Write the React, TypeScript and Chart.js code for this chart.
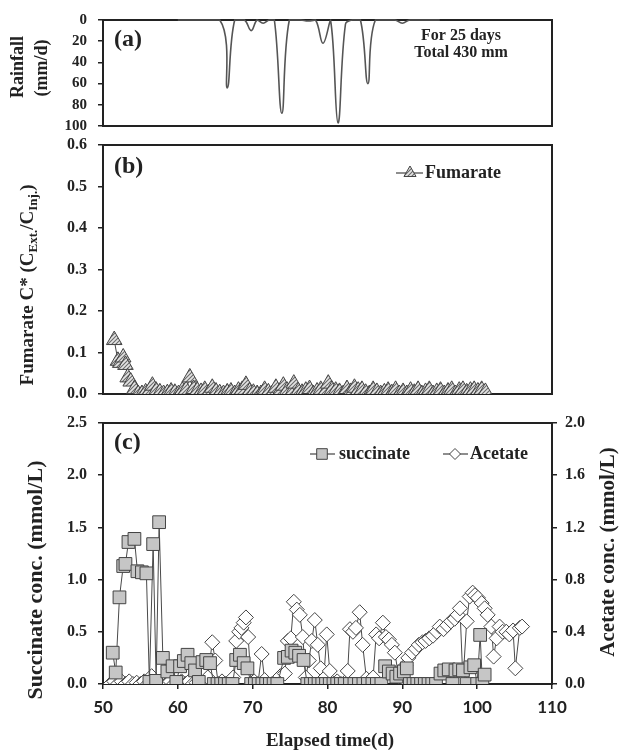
import React, { useEffect, useRef } from 'react';
import { Chart, registerables } from 'chart.js';

Chart.register(...registerables);

const W = 619;
const H = 750;
const LEFT = 103;
const RIGHT = 552;
const SERIF = '"Liberation Serif", "Times New Roman", serif';
const SANS = 'Lato, "Open Sans", sans-serif';
const INK = '#222';

// ---------- (a) rainfall ----------
const rainDays = [60, 65.6, 66.6, 67.6, 68.9, 69.8, 70.6, 71.4, 72.2, 72.9, 73.9, 74.9, 76.4, 77.4, 78.4, 79.4, 80.4, 81.4, 82.4, 83.3, 84.4, 85.4, 86.4, 89.0, 90.0, 91.0, 95];
const rainMm = [0, 0, 64, 0, 0, 10, 0, 3, 0, 0, 88, 0, 0, 1, 0, 22, 0, 97, 4, 0, 0, 60, 0, 0, 3, 0, 0];
const rainTicks = [0, 20, 40, 60, 80, 100];

// ---------- (b) fumarate ----------
const fumDays = [51.5, 52.0, 52.3, 52.7, 53.0, 53.3, 53.7, 54.2, 54.7, 55.2, 55.7, 56.2, 56.6, 57.1, 57.6, 58.1, 58.6, 59.1, 59.6, 60.1, 60.6, 61.1, 61.6, 62.1, 62.6, 63.1, 63.6, 64.1, 64.6, 65.1, 65.6, 66.1, 66.6, 67.1, 67.6, 68.1, 68.6, 69.1, 69.6, 70.1, 70.6, 71.1, 71.6, 72.1, 72.6, 73.1, 73.6, 74.1, 74.6, 75.1, 75.5, 76.1, 76.6, 77.1, 77.6, 78.1, 78.6, 79.1, 79.6, 80.1, 80.6, 81.1, 81.6, 82.1, 82.6, 83.1, 83.6, 84.1, 84.6, 85.1, 85.6, 86.1, 86.6, 87.1, 87.6, 88.1, 88.6, 89.1, 89.6, 90.1, 90.6, 91.1, 91.6, 92.1, 92.6, 93.1, 93.6, 94.1, 94.6, 95.1, 95.6, 96.1, 96.6, 97.1, 97.6, 98.1, 98.6, 99.1, 99.6, 100.1, 100.6, 101.1];
const fumVals = [0.130, 0.080, 0.075, 0.088, 0.070, 0.040, 0.030, 0.012, 0.000, 0.000, 0.004, 0.006, 0.020, 0.008, 0.004, 0.000, 0.002, 0.006, 0.003, 0.000, 0.008, 0.010, 0.040, 0.012, 0.008, 0.005, 0.010, 0.002, 0.015, 0.006, 0.002, 0.000, 0.004, 0.006, 0.000, 0.008, 0.010, 0.022, 0.006, 0.003, 0.000, 0.000, 0.010, 0.004, 0.000, 0.015, 0.005, 0.020, 0.008, 0.000, 0.025, 0.006, 0.003, 0.008, 0.012, 0.000, 0.006, 0.010, 0.002, 0.025, 0.010, 0.008, 0.005, 0.000, 0.012, 0.005, 0.015, 0.008, 0.010, 0.003, 0.000, 0.010, 0.005, 0.000, 0.004, 0.008, 0.002, 0.010, 0.000, 0.005, 0.000, 0.008, 0.003, 0.010, 0.000, 0.005, 0.010, 0.000, 0.005, 0.008, 0.000, 0.006, 0.010, 0.000, 0.008, 0.010, 0.004, 0.008, 0.010, 0.006, 0.010, 0.005];
const fumTicks = [0, 0.1, 0.2, 0.3, 0.4, 0.5, 0.6];

// ---------- (c) succinate & acetate ----------
const succDays = [51.3, 51.7, 52.2, 52.7, 53.0, 53.4, 54.2, 54.6, 55.2, 55.8, 56.2, 56.7, 57.1, 57.5, 58.0, 58.6, 59.3, 59.8, 60.3, 60.8, 61.3, 61.8, 62.3, 62.8, 63.3, 63.8, 64.3, 64.8, 65.3, 65.8, 66.3, 66.8, 67.3, 67.8, 68.3, 68.8, 69.3, 69.8, 70.3, 70.8, 71.3, 71.8, 72.3, 72.8, 73.3, 74.2, 74.7, 75.2, 75.7, 76.2, 76.8, 77.3, 77.8, 78.3, 78.8, 79.3, 79.8, 80.3, 80.8, 81.3, 81.8, 82.3, 83.0, 83.6, 84.2, 84.8, 85.4, 86.0, 86.6, 87.2, 87.7, 88.2, 88.7, 89.2, 89.7, 90.2, 90.6, 91.0, 91.5, 92.0, 92.5, 93.0, 93.5, 94.0, 94.5, 95.1, 95.6, 96.2, 96.7, 97.1, 97.6, 98.1, 98.6, 99.1, 99.6, 100.0, 100.4, 100.7, 101.0];
const succVals = [0.30, 0.11, 0.83, 1.13, 1.15, 1.36, 1.39, 1.08, 1.07, 1.06, 0.02, 1.34, 0.03, 1.55, 0.25, 0.12, 0.17, 0.02, 0.17, 0.22, 0.28, 0.20, 0.13, 0.02, 0.21, 0.23, 0.20, 0.00, 0.00, 0.00, 0.00, 0.00, 0.00, 0.23, 0.28, 0.20, 0.15, 0.00, 0.00, 0.00, 0.00, 0.00, 0.00, 0.00, 0.00, 0.25, 0.26, 0.32, 0.30, 0.27, 0.23, 0.00, 0.00, 0.00, 0.00, 0.00, 0.00, 0.00, 0.00, 0.00, 0.00, 0.00, 0.00, 0.00, 0.00, 0.00, 0.00, 0.00, 0.00, 0.00, 0.17, 0.12, 0.10, 0.07, 0.10, 0.12, 0.15, 0.00, 0.00, 0.00, 0.00, 0.00, 0.00, 0.00, 0.00, 0.10, 0.13, 0.14, 0.00, 0.13, 0.14, 0.13, 0.00, 0.16, 0.18, 0.00, 0.47, 0.00, 0.09];

const aceDays = [51.0, 51.5, 52.0, 52.5, 53.0, 53.5, 54.0, 54.5, 55.0, 55.5, 56.0, 56.5, 57.0, 57.5, 58.0, 58.5, 59.0, 59.5, 60.0, 60.5, 61.0, 61.5, 62.0, 62.5, 63.0, 63.5, 64.0, 64.6, 65.0, 65.4, 65.9, 66.4, 66.9, 67.4, 67.8, 68.2, 68.5, 68.8, 69.1, 69.4, 69.8, 70.2, 70.7, 71.2, 71.6, 72.1, 72.6, 73.1, 73.7, 74.3, 74.7, 75.1, 75.5, 75.9, 76.3, 76.7, 77.1, 77.5, 77.9, 78.3, 78.7, 79.1, 79.5, 79.9, 80.3, 80.8, 81.3, 81.8, 82.3, 82.7, 83.0, 83.4, 83.8, 84.3, 84.7, 85.2, 85.7, 86.1, 86.5, 86.9, 87.4, 87.8, 88.2, 88.6, 89.0, 89.5, 90.0, 90.4, 90.8, 91.3, 91.8, 92.2, 92.7, 93.1, 93.6, 94.1, 94.6, 95.0, 95.5, 96.0, 96.5, 97.0, 97.4, 97.7, 98.1, 98.6, 99.0, 99.4, 99.7, 100.1, 100.6, 101.0, 101.4, 101.9, 102.2, 102.6, 103.0, 103.4, 103.9, 104.3, 104.8, 105.1, 105.7, 106.0];
const aceVals = [0.00, 0.02, 0.00, 0.02, 0.00, 0.02, 0.00, 0.01, 0.00, 0.02, 0.00, 0.06, 0.01, 0.00, 0.02, 0.00, 0.02, 0.00, 0.01, 0.02, 0.00, 0.02, 0.00, 0.01, 0.02, 0.00, 0.05, 0.32, 0.18, 0.00, 0.02, 0.00, 0.01, 0.05, 0.33, 0.40, 0.43, 0.47, 0.51, 0.36, 0.00, 0.02, 0.00, 0.23, 0.03, 0.00, 0.00, 0.02, 0.06, 0.08, 0.33, 0.35, 0.63, 0.57, 0.53, 0.36, 0.05, 0.18, 0.33, 0.49, 0.30, 0.12, 0.04, 0.38, 0.10, 0.00, 0.02, 0.00, 0.01, 0.10, 0.42, 0.40, 0.43, 0.55, 0.30, 0.04, 0.00, 0.05, 0.38, 0.35, 0.47, 0.36, 0.34, 0.30, 0.24, 0.06, 0.05, 0.14, 0.20, 0.24, 0.27, 0.30, 0.32, 0.33, 0.35, 0.37, 0.40, 0.44, 0.42, 0.45, 0.48, 0.50, 0.53, 0.58, 0.02, 0.48, 0.67, 0.70, 0.68, 0.66, 0.62, 0.58, 0.53, 0.44, 0.21, 0.35, 0.44, 0.40, 0.40, 0.38, 0.41, 0.12, 0.43, 0.44];

const succTicks = [0, 0.5, 1.0, 1.5, 2.0, 2.5];
const aceTicks = [0, 0.4, 0.8, 1.2, 1.6, 2.0];
const dayTicks = [50, 60, 70, 80, 90, 100, 110];

// ---------- helpers ----------
type Seg = { t: string; size: number; sub?: boolean };

function drawRot(ctx: CanvasRenderingContext2D, segs: Seg[], cx: number, cy: number) {
  ctx.save();
  ctx.translate(cx, cy);
  ctx.rotate(-Math.PI / 2);
  ctx.textBaseline = 'middle';
  ctx.textAlign = 'left';
  ctx.fillStyle = INK;
  let total = 0;
  const widths = segs.map((s) => {
    ctx.font = `bold ${s.size}px ${SERIF}`;
    const w = ctx.measureText(s.t).width;
    total += w;
    return w;
  });
  let x = -total / 2;
  segs.forEach((s, i) => {
    ctx.font = `bold ${s.size}px ${SERIF}`;
    ctx.fillText(s.t, x, s.sub ? s.size * 0.45 : 0);
    x += widths[i];
  });
  ctx.restore();
}

function text(ctx: CanvasRenderingContext2D, t: string, x: number, y: number, size: number, align: CanvasTextAlign = 'left', family = SERIF) {
  ctx.save();
  ctx.font = `bold ${size}px ${family}`;
  ctx.fillStyle = INK;
  ctx.textAlign = align;
  ctx.textBaseline = 'middle';
  ctx.fillText(t, x, y);
  ctx.restore();
}

function marker(ctx: CanvasRenderingContext2D, style: string, x: number, y: number, r: number, fill: string | CanvasPattern) {
  ctx.save();
  ctx.beginPath();
  if (style === 'triangle') {
    ctx.moveTo(x, y - r);
    ctx.lineTo(x + r * 0.866, y + r * 0.5);
    ctx.lineTo(x - r * 0.866, y + r * 0.5);
    ctx.closePath();
  } else if (style === 'rect') {
    const s = r * 0.707;
    ctx.rect(x - s, y - s, 2 * s, 2 * s);
  } else {
    ctx.moveTo(x - r, y);
    ctx.lineTo(x, y - r);
    ctx.lineTo(x + r, y);
    ctx.lineTo(x, y + r);
    ctx.closePath();
  }
  ctx.fillStyle = fill as any;
  ctx.fill();
  ctx.strokeStyle = '#444';
  ctx.lineWidth = 1;
  ctx.stroke();
  ctx.restore();
}

function legendItem(ctx: CanvasRenderingContext2D, x1: number, x2: number, mx: number, y: number, style: string, r: number, fill: string | CanvasPattern, label: string, tx: number, size: number) {
  ctx.save();
  ctx.strokeStyle = '#444';
  ctx.lineWidth = 1.2;
  ctx.beginPath();
  ctx.moveTo(x1, y);
  ctx.lineTo(x2, y);
  ctx.stroke();
  ctx.restore();
  marker(ctx, style, mx, y, r, fill);
  text(ctx, label, tx, y, size, 'left');
}

function makeHatch(): CanvasPattern {
  const c = document.createElement('canvas');
  c.width = 4;
  c.height = 4;
  const g = c.getContext('2d')!;
  g.fillStyle = '#e4e4e4';
  g.fillRect(0, 0, 4, 4);
  g.strokeStyle = '#6a6a6a';
  g.lineWidth = 1.1;
  g.beginPath();
  g.moveTo(0, 4);
  g.lineTo(4, 0);
  g.moveTo(-1, 1);
  g.lineTo(1, -1);
  g.moveTo(3, 5);
  g.lineTo(5, 3);
  g.stroke();
  return g.createPattern(c, 'repeat')!;
}

const boxPlugin = {
  id: 'box',
  beforeDatasetsDraw(chart: any) {
    const { ctx, chartArea: a } = chart;
    ctx.save();
    ctx.strokeStyle = INK;
    ctx.lineWidth = 2;
    ctx.strokeRect(a.left, a.top, a.right - a.left, a.bottom - a.top);
    ctx.restore();
  },
};

function yAxis(ticksArr: number[], position: string, width: number, dec: number, size: number, reverse = false, pad = 10) {
  return {
    type: 'linear',
    position,
    reverse,
    min: ticksArr[0],
    max: ticksArr[ticksArr.length - 1],
    afterBuildTicks: (s: any) => {
      s.ticks = ticksArr.map((v) => ({ value: v }));
    },
    ticks: {
      color: INK,
      padding: pad,
      font: { family: SERIF, size, weight: 'bold' },
      callback: (v: any) => Number(v).toFixed(dec),
    },
    grid: { drawOnChartArea: false, drawTicks: true, tickLength: 5, color: INK, lineWidth: 1.5 },
    border: { display: false },
    afterFit: (s: any) => {
      s.width = width;
    },
  };
}

const hiddenX = { type: 'linear', min: 50, max: 110, display: false };

const base = {
  animation: false,
  responsive: false,
  devicePixelRatio: 1,
  events: [],
  plugins: { legend: { display: false }, tooltip: { enabled: false } },
};

export default function App() {
  const refA = useRef<HTMLCanvasElement>(null);
  const refB = useRef<HTMLCanvasElement>(null);
  const refC = useRef<HTMLCanvasElement>(null);

  useEffect(() => {
    const hatch = makeHatch();

    const chartA = new Chart(refA.current!, {
      type: 'line',
      data: {
        datasets: [
          {
            data: rainDays.map((d, i) => ({ x: d, y: rainMm[i] })),
            borderColor: '#555',
            borderWidth: 1.6,
            pointRadius: 0,
            tension: 0.4,
            fill: false,
            clip: 1,
          } as any,
        ],
      },
      options: {
        ...base,
        layout: { padding: { left: 0, right: W - RIGHT, top: 18, bottom: H - 126 } },
        scales: {
          x: hiddenX,
          y: yAxis(rainTicks, 'left', LEFT, 0, 15, true, 11),
        },
      } as any,
      plugins: [
        boxPlugin,
        {
          id: 'annA',
          afterDraw(chart: any) {
            const ctx = chart.ctx;
            text(ctx, '(a)', 114, 40, 24);
            text(ctx, 'For 25 days', 461, 36, 16, 'center');
            text(ctx, 'Total 430 mm', 461, 53, 16, 'center');
            drawRot(ctx, [{ t: 'Rainfall', size: 18 }], 18, 67);
            drawRot(ctx, [{ t: '(mm/d)', size: 18 }], 42, 68);
          },
        },
      ],
    });

    const chartB = new Chart(refB.current!, {
      type: 'line',
      data: {
        datasets: [
          {
            data: fumDays.map((d, i) => ({ x: d, y: fumVals[i] })),
            borderColor: '#444',
            borderWidth: 1,
            pointStyle: 'triangle',
            pointRadius: 9,
            pointBackgroundColor: hatch,
            pointBorderColor: '#444',
            pointBorderWidth: 1,
            tension: 0,
            fill: false,
          } as any,
        ],
      },
      options: {
        ...base,
        layout: { padding: { left: 0, right: W - RIGHT, top: 145, bottom: H - 394 } },
        scales: {
          x: hiddenX,
          y: yAxis(fumTicks, 'left', LEFT, 1, 16, false, 11),
        },
      } as any,
      plugins: [
        boxPlugin,
        {
          id: 'annB',
          afterDraw(chart: any) {
            const ctx = chart.ctx;
            text(ctx, '(b)', 114, 167, 24);
            legendItem(ctx, 396, 423, 410, 173, 'triangle', 7, hatch, 'Fumarate', 425, 18);
            drawRot(
              ctx,
              [
                { t: 'Fumarate C* (C', size: 19 },
                { t: 'Ext.', size: 13, sub: true },
                { t: '/C', size: 19 },
                { t: 'Inj.', size: 13, sub: true },
                { t: ')', size: 19 },
              ],
              28,
              285,
            );
          },
        },
      ],
    });

    const chartC = new Chart(refC.current!, {
      type: 'line',
      data: {
        datasets: [
          {
            label: 'succinate',
            yAxisID: 'y',
            data: succDays.map((d, i) => ({ x: d, y: succVals[i] })),
            borderColor: '#4a4a4a',
            borderWidth: 1,
            pointStyle: 'rect',
            pointRadius: 9,
            pointBackgroundColor: '#c6c6c6',
            pointBorderColor: '#444',
            pointBorderWidth: 1,
            tension: 0,
            fill: false,
          } as any,
          {
            label: 'Acetate',
            yAxisID: 'y1',
            data: aceDays.map((d, i) => ({ x: d, y: aceVals[i] })),
            borderColor: '#4a4a4a',
            borderWidth: 1,
            pointStyle: 'rectRot',
            pointRadius: 7.5,
            pointBackgroundColor: '#ffffff',
            pointBorderColor: '#444',
            pointBorderWidth: 1,
            tension: 0,
            fill: false,
          } as any,
        ],
      },
      options: {
        ...base,
        layout: { padding: { left: 0, right: 0, top: 423, bottom: H - 684 - 40 } },
        scales: {
          x: {
            type: 'linear',
            min: 50,
            max: 110,
            afterBuildTicks: (s: any) => {
              s.ticks = dayTicks.map((v) => ({ value: v }));
            },
            ticks: { color: INK, padding: 8, font: { family: SANS, size: 17, weight: 'bold' } },
            grid: { drawOnChartArea: false, drawTicks: true, tickLength: 5, color: INK, lineWidth: 1.5 },
            border: { display: false },
            afterFit: (s: any) => {
              s.height = 40;
            },
          },
          y: yAxis(succTicks, 'left', LEFT, 1, 16, false, 11),
          y1: yAxis(aceTicks, 'right', W - RIGHT, 1, 16, false, 8),
        },
      } as any,
      plugins: [
        boxPlugin,
        {
          id: 'annC',
          afterDraw(chart: any) {
            const ctx = chart.ctx;
            text(ctx, '(c)', 114, 443, 24);
            legendItem(ctx, 310, 335, 322, 454, 'rect', 7.5, '#c6c6c6', 'succinate', 339, 18);
            legendItem(ctx, 443, 468, 455, 454, 'rectRot', 5.5, '#ffffff', 'Acetate', 470, 18);
            drawRot(ctx, [{ t: 'Succinate conc. (mmol/L)', size: 22 }], 36, 580);
            drawRot(ctx, [{ t: 'Acetate conc. (mmol/L)', size: 21 }], 609, 552);
            text(ctx, 'Elapsed time(d)', 330, 741, 19, 'center');
          },
        },
      ],
    });

    return () => {
      chartA.destroy();
      chartB.destroy();
      chartC.destroy();
    };
  }, []);

  const cs: React.CSSProperties = { position: 'absolute', left: 0, top: 0, width: W, height: H };
  return (
    <div style={{ position: 'fixed', left: 0, top: 0, width: W, height: H, background: '#fff' }}>
      <canvas ref={refA} width={W} height={H} style={cs} />
      <canvas ref={refB} width={W} height={H} style={cs} />
      <canvas ref={refC} width={W} height={H} style={cs} />
    </div>
  );
}
